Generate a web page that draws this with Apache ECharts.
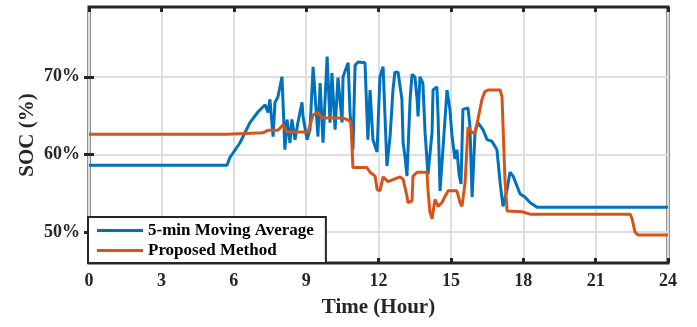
<!DOCTYPE html>
<html>
<head>
<meta charset="utf-8">
<script src="https://cdn.jsdelivr.net/npm/echarts@6/dist/echarts.min.js"></script>
<style>
  html, body { margin: 0; padding: 0; background: #fff; }
  #chart { width: 697px; height: 327px; }
</style>
</head>
<body>
<div id="chart"></div>
<script>
const seriesNames = ['5-min Moving Average', 'Proposed Method'];
const xTicks = [0, 3, 6, 9, 12, 15, 18, 21, 24];
const yTicks = [50, 60, 70];

// 5-min moving average (hour, SOC %)
const avgHours = [
  0, 5.72, 5.84, 6.26, 6.67, 7.01, 7.30, 7.42, 7.50, 7.63, 7.71, 7.83, 8.00, 8.12,
  8.21, 8.33, 8.41, 8.54, 8.66, 8.83, 8.87, 9.04, 9.16, 9.29, 9.37, 9.49, 9.58, 9.70,
  9.87, 9.99, 10.07, 10.20, 10.32, 10.49, 10.53, 10.74, 10.82, 10.94, 11.03, 11.15,
  11.44, 11.56, 11.65, 11.77, 11.94, 11.98, 12.06, 12.19, 12.27, 12.35, 12.48, 12.60,
  12.68, 12.81, 12.97, 13.02, 13.10, 13.18, 13.31, 13.39, 13.51, 13.60, 13.64, 13.72,
  13.84, 13.93, 14.05, 14.22, 14.26, 14.42, 14.47, 14.55, 14.67, 14.84, 14.96, 15.05,
  15.17, 15.25, 15.34, 15.42, 15.50, 15.71, 15.79, 15.88, 16.00, 16.12, 16.33, 16.50,
  16.70, 16.91, 17.04, 17.16, 17.33, 17.45, 17.58, 17.87, 18.07, 18.28, 18.57, 24
];
const avgSoc = [
  58.6, 58.6, 59.6, 61.5, 64.1, 65.5, 66.4, 65.4, 67.1, 62.3, 66.7, 67.4, 70.0, 60.6,
  64.5, 61.5, 64.5, 61.9, 64.1, 66.7, 64.9, 61.9, 63.2, 71.3, 71.5, 62.3, 69.2, 61.5,
  72.6, 64.1, 70.5, 63.2, 69.9, 64.1, 70.0, 71.8, 65.4, 60.6, 71.5, 71.9,
  71.8, 61.9, 68.3, 61.9, 60.3, 63.6, 70.0, 71.3, 64.9, 58.5, 62.3, 68.3,
  70.6, 70.6, 67.1, 61.5, 59.7, 57.2, 67.1, 70.3, 70.0, 67.1, 64.9, 70.0,
  69.2, 62.8, 57.4, 62.8, 68.3, 68.7, 64.9, 55.3, 60.6, 68.3, 65.8, 62.3,
  59.4, 60.6, 57.4, 56.2, 65.8, 66.0, 63.6, 54.5, 62.8, 64.1, 63.2, 61.9,
  61.7, 60.6, 56.4, 53.3, 55.5, 57.7, 57.2, 54.9, 54.5, 53.8, 53.2, 53.2
];

// proposed method (hour, SOC %)
const propHours = [
  0, 5.72, 7.21, 7.42, 7.83, 8.04, 8.21, 9.08, 9.29, 9.49, 9.66, 10.49, 10.69, 10.86,
  10.94, 11.52, 11.65, 11.86, 11.94, 12.06, 12.19, 12.39, 12.89, 13.02, 13.18, 13.22,
  13.39, 13.43, 13.60, 14.01, 14.05, 14.13, 14.22, 14.26, 14.34, 14.47, 14.63, 14.76,
  14.88, 15.25, 15.38, 15.46, 15.59, 15.71, 15.88, 16.00, 16.12, 16.29, 16.41, 16.54,
  17.04, 17.12, 17.24, 17.33, 17.37, 17.95, 18.28, 22.43, 22.51, 22.63, 22.76, 24
];
const propSoc = [
  62.6, 62.6, 62.8, 63.1, 63.1, 63.8, 62.9, 62.9, 65.1, 65.4, 64.7, 64.7, 64.5, 64.2,
  58.3, 58.3, 57.7, 57.2, 55.5, 55.3, 57.1, 56.5, 57.1, 56.8, 54.6, 53.8,
  54.0, 57.2, 57.7, 57.7, 55.5, 52.6, 51.7, 51.9, 54.2, 53.3, 53.8, 54.6,
  55.3, 55.3, 53.8, 53.3, 56.4, 63.5, 62.8, 62.8, 64.5, 67.1, 68.1, 68.3,
  68.3, 67.4, 56.8, 52.7, 52.6, 52.6, 52.3, 52.3, 51.7, 50.0, 49.6, 49.6
];

const zip = (xs, ys) => xs.map((x, i) => [x, ys[i]]);

const dark = '#262626';
const font = 'Liberation Serif';

const chart = echarts.init(document.getElementById('chart'));
chart.setOption({
  animation: false,
  backgroundColor: '#fff',
  textStyle: { fontFamily: font },
  grid: {
    left: 89, right: 29, top: 7, bottom: 64,
    show: true, borderColor: dark, borderWidth: 3,
  },
  legend: {
    data: seriesNames,
    orient: 'vertical',
    left: 88, top: 217,
    icon: 'rect',
    itemWidth: 46, itemHeight: 3,
    itemGap: 3,
    padding: [5, 12, 4, 9],
    backgroundColor: '#fff',
    borderColor: dark, borderWidth: 2,
    textStyle: { fontFamily: font, fontWeight: 'bold', fontSize: 17, color: '#000' },
  },
  xAxis: [
    {
      type: 'value', min: 0, max: 24, interval: 3,
      name: 'Time (Hour)', nameLocation: 'middle', nameGap: 34,
      nameTextStyle: { fontFamily: font, fontWeight: 'bold', fontSize: 21, color: dark },
      axisLine: { show: false },
      axisTick: { inside: true, length: 5, lineStyle: { color: dark, width: 3 } },
      axisLabel: { margin: 9, fontFamily: font, fontWeight: 'bold', fontSize: 18, color: dark },
      splitLine: { lineStyle: { color: '#dedede', width: 2 } },
    },
    {
      type: 'value', min: 0, max: 24, interval: 3, position: 'top',
      axisLine: { show: false },
      axisTick: { inside: true, length: 5, lineStyle: { color: dark, width: 3 } },
      axisLabel: { show: false },
      splitLine: { show: false },
    },
  ],
  yAxis: [
    {
      type: 'value', min: 46, max: 79,
      name: 'SOC (%)', nameLocation: 'middle', nameGap: 51, nameMoveOverlap: false,
      nameTextStyle: { fontFamily: font, fontWeight: 'bold', fontSize: 21, color: dark },
      axisLine: { show: false },
      axisTick: { inside: true, length: 5, customValues: yTicks, lineStyle: { color: dark, width: 3 } },
      axisLabel: {
        customValues: yTicks, margin: 9, formatter: '{value}%',
        fontFamily: font, fontWeight: 'bold', fontSize: 18, color: dark,
      },
      splitLine: { lineStyle: { color: '#dedede', width: 2 } },
    },
    {
      type: 'value', min: 46, max: 79, position: 'right',
      axisLine: { show: false },
      axisTick: { inside: true, length: 5, customValues: yTicks, lineStyle: { color: dark, width: 3 } },
      axisLabel: { show: false, customValues: yTicks },
      splitLine: { show: false },
    },
  ],
  series: [
    {
      name: seriesNames[0], type: 'line', showSymbol: false,
      data: zip(avgHours, avgSoc),
      lineStyle: { color: '#0072BD', width: 3 }, itemStyle: { color: '#0072BD' },
    },
    {
      name: seriesNames[1], type: 'line', showSymbol: false,
      data: zip(propHours, propSoc),
      lineStyle: { color: '#D95319', width: 3 }, itemStyle: { color: '#D95319' },
    },
  ],
});
</script>
</body>
</html>
